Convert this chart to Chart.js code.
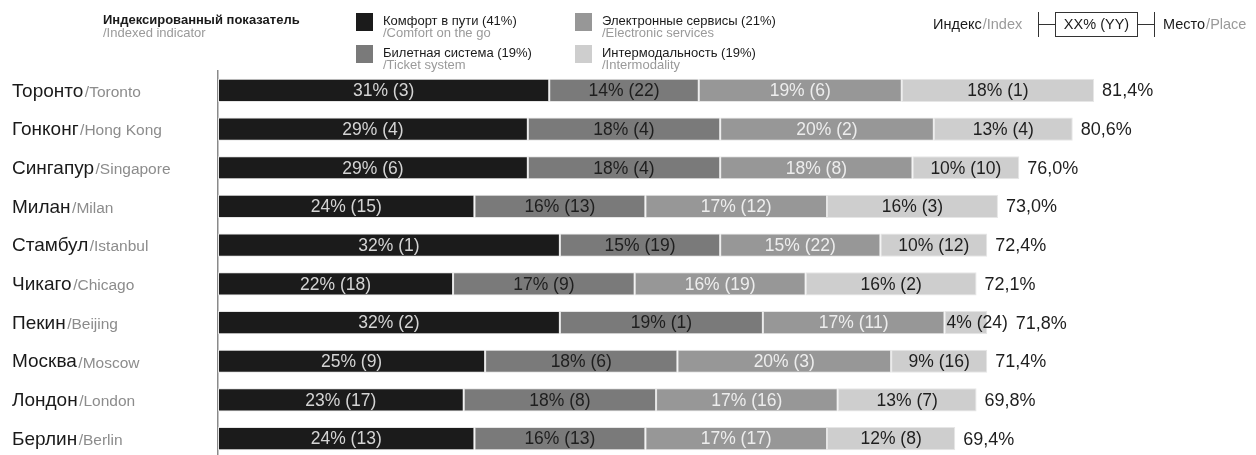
<!DOCTYPE html>
<html>
<head>
<meta charset="utf-8">
<title>Индексированный показатель</title>
<script src="https://cdn.jsdelivr.net/npm/chart.js@4"></script>
<style>
  html, body { margin: 0; padding: 0; background: #fff; overflow: hidden; }
  #wrap { width: 1256px; height: 462px; }
</style>
</head>
<body>
<div id="wrap"><canvas id="chart" width="1256" height="462"></canvas></div>
<script>
// Cities, top to bottom
const citiesRu = ['Торонто', 'Гонконг', 'Сингапур', 'Милан', 'Стамбул', 'Чикаго', 'Пекин', 'Москва', 'Лондон', 'Берлин'];
const citiesEn = ['Toronto', 'Hong Kong', 'Singapore', 'Milan', 'Istanbul', 'Chicago', 'Beijing', 'Moscow', 'London', 'Berlin'];

// Component names and their weights in the index
const seriesRu = ['Комфорт в пути', 'Билетная система', 'Электронные сервисы', 'Интермодальность'];
const seriesEn = ['Comfort on the go', 'Ticket system', 'Electronic services', 'Intermodality'];
const seriesWeights = [41, 19, 21, 19];

// Component contributions (%) and places
const comfort = [31, 29, 29, 24, 32, 22, 32, 25, 23, 24];
const comfortRank = [3, 4, 6, 15, 1, 18, 2, 9, 17, 13];
const ticket = [14, 18, 18, 16, 15, 17, 19, 18, 18, 16];
const ticketRank = [22, 4, 4, 13, 19, 9, 1, 6, 8, 13];
const electronic = [19, 20, 18, 17, 15, 16, 17, 20, 17, 17];
const electronicRank = [6, 2, 8, 12, 22, 19, 11, 3, 16, 17];
const intermodal = [18, 13, 10, 16, 10, 16, 4, 9, 13, 12];
const intermodalRank = [1, 4, 10, 3, 12, 2, 24, 16, 7, 8];

// Overall index
const indexValues = [81.4, 80.6, 76.0, 73.0, 72.4, 72.1, 71.8, 71.4, 69.8, 69.4];

const FONT = '"Liberation Sans", Arial, Helvetica, sans-serif';
const fills = ['#1b1b1b', '#7a7a7a', '#979797', '#cecece'];
const inkOnFill = ['#d4d4d4', '#1e1e1e', '#ededed', '#1e1e1e'];

const seriesData = [comfort, ticket, electronic, intermodal];
const seriesRanks = [comfortRank, ticketRank, electronicRank, intermodalRank];

const datasets = seriesRu.map((name, k) => ({
  label: name,
  data: seriesData[k],
  ranks: seriesRanks[k],
  backgroundColor: fills[k],
  borderColor: '#e6e6e6',
  borderWidth: 1,
  borderSkipped: false,
  barPercentage: 0.6,
  categoryPercentage: 1
}));

function fmtIndex(v) {
  return v.toFixed(1).replace('.', ',') + '%';
}

// Header: title, colour key and the "index / place" explainer
const headerPlugin = {
  id: 'header',
  afterDraw(chart) {
    const ctx = chart.ctx;
    ctx.save();
    ctx.textBaseline = 'alphabetic';
    ctx.textAlign = 'left';

    ctx.font = 'bold 13px ' + FONT;
    ctx.fillStyle = '#1a1a1a';
    ctx.fillText('Индексированный показатель', 103, 24);
    ctx.font = '13px ' + FONT;
    ctx.fillStyle = '#9a9a9a';
    ctx.fillText('/Indexed indicator', 103, 37);

    // key: two columns, two rows (column-major order)
    const colX = [356, 575];
    const rowY = [13, 45];
    datasets.forEach((ds, k) => {
      const cx = colX[Math.floor(k / 2)];
      const ry = rowY[k % 2];
      ctx.fillStyle = ds.backgroundColor;
      ctx.fillRect(cx, ry, 17, 18);
      ctx.font = '13px ' + FONT;
      ctx.fillStyle = '#1a1a1a';
      ctx.fillText(seriesRu[k] + ' (' + seriesWeights[k] + '%)', cx + 27, ry + 12);
      ctx.fillStyle = '#9a9a9a';
      ctx.fillText('/' + seriesEn[k], cx + 27, ry + 24);
    });

    // explainer glyph
    const midY = 24.5;
    ctx.font = '14.5px ' + FONT;
    ctx.fillStyle = '#1a1a1a';
    ctx.fillText('Индекс', 933, 29);
    let w = ctx.measureText('Индекс').width;
    ctx.fillStyle = '#9a9a9a';
    ctx.fillText('/Index', 933 + w + 1, 29);

    ctx.strokeStyle = '#333';
    ctx.lineWidth = 1;
    ctx.beginPath();
    ctx.moveTo(1038.5, 12); ctx.lineTo(1038.5, 37);
    ctx.moveTo(1038.5, midY); ctx.lineTo(1055.5, midY);
    ctx.moveTo(1137.5, midY); ctx.lineTo(1154.5, midY);
    ctx.moveTo(1154.5, 12); ctx.lineTo(1154.5, 37);
    ctx.stroke();
    ctx.strokeRect(1055.5, 12.5, 82, 24);

    ctx.textAlign = 'center';
    ctx.fillStyle = '#1a1a1a';
    ctx.fillText('XX% (YY)', 1096.5, 29);

    ctx.textAlign = 'left';
    ctx.fillText('Место', 1163, 29);
    w = ctx.measureText('Место').width;
    ctx.fillStyle = '#9a9a9a';
    ctx.fillText('/Place', 1163 + w + 1, 29);
    ctx.restore();
  }
};

// City names on the left, Russian followed by English
const cityLabelsPlugin = {
  id: 'cityLabels',
  afterDraw(chart) {
    const ctx = chart.ctx;
    const y = chart.scales.y;
    ctx.save();
    ctx.textBaseline = 'middle';
    ctx.textAlign = 'left';
    citiesRu.forEach((name, i) => {
      const py = y.getPixelForValue(i) + 1;
      ctx.font = '19px ' + FONT;
      ctx.fillStyle = '#1a1a1a';
      ctx.fillText(name, 12, py);
      const w = ctx.measureText(name).width;
      ctx.font = '15.5px ' + FONT;
      ctx.fillStyle = '#8c8c8c';
      ctx.fillText('/' + citiesEn[i], 12 + w + 1.5, py + 1);
    });
    ctx.restore();
  }
};

// "value% (place)" inside each segment and the index after each bar
const valueLabelsPlugin = {
  id: 'valueLabels',
  afterDatasetsDraw(chart) {
    const ctx = chart.ctx;
    ctx.save();
    ctx.textBaseline = 'middle';
    ctx.font = '17.5px ' + FONT;
    const rowEnd = new Array(citiesRu.length).fill(0);
    chart.data.datasets.forEach((ds, k) => {
      const meta = chart.getDatasetMeta(k);
      meta.data.forEach((bar, i) => {
        const txt = ds.data[i] + '% (' + ds.ranks[i] + ')';
        const left = Math.min(bar.x, bar.base);
        const segW = Math.abs(bar.x - bar.base);
        const tw = ctx.measureText(txt).width;
        ctx.fillStyle = inkOnFill[k];
        let textEnd;
        if (tw + 6 > segW) {
          // narrow segment: start at its left edge and run past the end
          ctx.textAlign = 'left';
          ctx.fillText(txt, left + 2, bar.y + 1);
          textEnd = left + 2 + tw;
        } else {
          ctx.textAlign = 'center';
          ctx.fillText(txt, left + segW / 2, bar.y + 1);
          textEnd = left + segW / 2 + tw / 2;
        }
        rowEnd[i] = Math.max(rowEnd[i], bar.x, textEnd);
      });
    });
    const last = chart.getDatasetMeta(chart.data.datasets.length - 1);
    ctx.font = '18px ' + FONT;
    ctx.fillStyle = '#1e1e1e';
    ctx.textAlign = 'left';
    last.data.forEach((bar, i) => {
      ctx.fillText(fmtIndex(indexValues[i]), rowEnd[i] + 8, bar.y + 1);
    });
    ctx.restore();
  }
};

new Chart(document.getElementById('chart'), {
  type: 'bar',
  data: { labels: citiesRu, datasets },
  options: {
    indexAxis: 'y',
    responsive: false,
    animation: false,
    events: [],
    layout: { padding: { top: 71, right: 23, bottom: 4, left: 0 } },
    plugins: { legend: { display: false }, tooltip: { enabled: false } },
    scales: {
      x: { stacked: true, min: 0, max: 95, display: false },
      y: {
        stacked: true,
        ticks: { display: false },
        grid: { display: false },
        border: { display: true, color: '#8a8a8a', width: 1.5 },
        afterFit(scale) { scale.width = 218; }
      }
    }
  },
  plugins: [headerPlugin, cityLabelsPlugin, valueLabelsPlugin]
});
</script>
</body>
</html>
